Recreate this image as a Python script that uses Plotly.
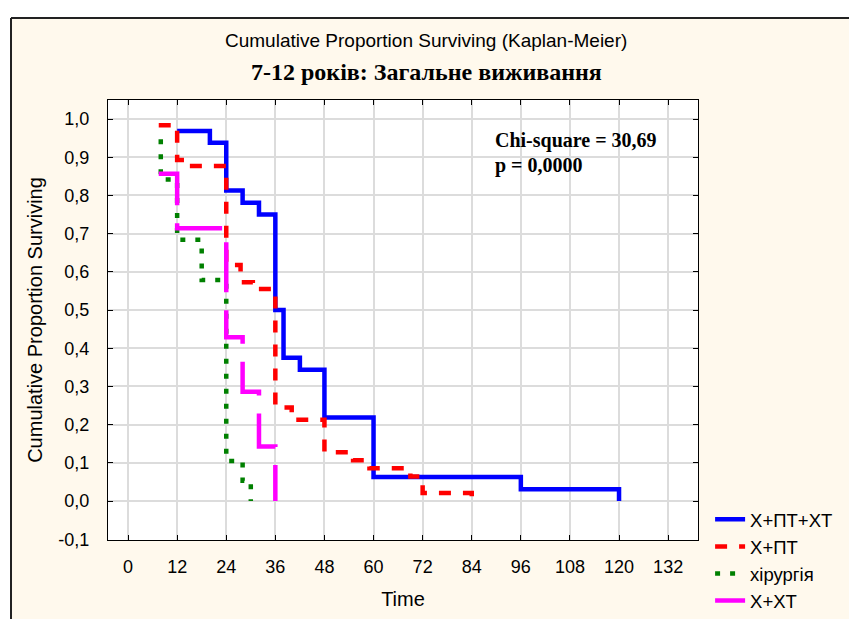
import plotly.graph_objects as go

# ---- data ----
series_names = ["Х+ПТ+ХТ", "Х+ПТ", "хірургія", "Х+ХТ"]

blue_time = [12, 20, 24, 28, 32, 36, 38, 42, 48, 60, 96, 120]
blue_surv = [0.969, 0.938, 0.813, 0.781, 0.750, 0.500, 0.375, 0.344, 0.219, 0.063, 0.031, 0.0]

red_time = [7.5, 12, 14, 24, 27.5, 30.5, 36, 40, 48, 55, 59, 69, 72, 84]
red_surv = [0.984, 0.893, 0.877, 0.618, 0.573, 0.555, 0.245, 0.213, 0.128, 0.107, 0.086, 0.064, 0.021, 0.0]

green_time = [8, 8, 12, 18, 24, 28, 30]
green_surv = [0.947, 0.842, 0.684, 0.579, 0.105, 0.053, 0.0]

magenta_time = [7.5, 12, 24, 28, 32, 36]
magenta_surv = [0.857, 0.714, 0.429, 0.286, 0.143, 0.0]

x_ticks = [0, 12, 24, 36, 48, 60, 72, 84, 96, 108, 120, 132]
y_ticks = [-0.1, 0.0, 0.1, 0.2, 0.3, 0.4, 0.5, 0.6, 0.7, 0.8, 0.9, 1.0]
y_tick_text = ["-0,1", "0,0", "0,1", "0,2", "0,3", "0,4", "0,5", "0,6", "0,7", "0,8", "0,9", "1,0"]

chi_text = "Chi-square = 30,69"
p_text = "p = 0,0000"
title_text = "Cumulative Proportion Surviving (Kaplan-Meier)"
subtitle_text = "7-12 років: Загальне виживання"

# ---- styles ----
CREAM = "#fff9ed"
SANS = "Liberation Sans, Arial, sans-serif"
SERIF = "Liberation Serif, Times New Roman, serif"

fig = go.Figure()
styles = [
    ("#0000ff", "solid"),
    ("#ff0000", "12px,12px"),
    ("#008000", "5px,10px"),
    ("#ff00ff", "50px,18px"),
]
datasets = [(blue_time, blue_surv), (red_time, red_surv),
            (green_time, green_surv), (magenta_time, magenta_surv)]
for name, (t, s), (col, dash) in zip(series_names, datasets, styles):
    fig.add_trace(go.Scatter(
        x=t, y=s, name=name, mode="lines",
        line=dict(color=col, width=4.5, dash=dash, shape="hv"),
    ))

axis_common = dict(
    showline=True, linecolor="black", linewidth=1, mirror="ticks",
    ticks="inside", ticklen=5, tickcolor="black",
    showgrid=True, gridcolor="#dcdcdc", gridwidth=1.5, zeroline=False,
    tickfont=dict(family=SANS, size=18, color="black"),
    automargin=False,
)

fig.update_layout(
    width=849, height=619, autosize=False,
    paper_bgcolor=CREAM, plot_bgcolor="white",
    margin=dict(l=108, r=151, t=100, b=79, autoexpand=False),
    showlegend=True,
    legend=dict(
        x=1.0205, y=0.089, xanchor="left", yanchor="top",
        font=dict(family=SANS, size=18.5, color="black"),
        bgcolor="rgba(0,0,0,0)", tracegroupgap=0,
    ),
    xaxis=dict(
        range=[-4.9, 139.3], tickvals=x_ticks, ticklabelstandoff=10,
        title=dict(text="Time", font=dict(family=SANS, size=20, color="black"), standoff=16),
        **axis_common,
    ),
    yaxis=dict(
        range=[-0.102, 1.05], tickvals=y_ticks, ticktext=y_tick_text,
        ticklabelstandoff=14,
        title=dict(text="Cumulative Proportion Surviving",
                   font=dict(family=SANS, size=20, color="black"), standoff=10),
        **axis_common,
    ),
)

fig.add_annotation(text=title_text, xref="paper", yref="paper",
                   x=0.539, y=1.136, xanchor="center", yanchor="middle",
                   showarrow=False, font=dict(family=SANS, size=19, color="black"))
fig.add_annotation(text="<b>" + subtitle_text + "</b>", xref="paper", yref="paper",
                   x=0.539, y=1.0636, xanchor="center", yanchor="middle",
                   showarrow=False, font=dict(family=SERIF, size=24, color="black"))
fig.add_annotation(text="<b>" + chi_text + "</b>", xref="x", yref="y",
                   x=89.2, y=0.945, xanchor="left", yanchor="middle",
                   showarrow=False, font=dict(family=SERIF, size=20, color="black"))
fig.add_annotation(text="<b>" + p_text + "</b>", xref="x", yref="y",
                   x=89.2, y=0.878, xanchor="left", yanchor="middle",
                   showarrow=False, font=dict(family=SERIF, size=20, color="black"))

# outer frame: white strips outside the frame + dark frame lines
fig.add_shape(type="rect", xref="paper", yref="paper", x0=-0.3, x1=1.4, y0=1.1875, y1=1.3,
              fillcolor="white", line=dict(width=0), layer="below")
fig.add_shape(type="rect", xref="paper", yref="paper", x0=-0.3, x1=-0.1661, y0=-0.3, y1=1.3,
              fillcolor="white", line=dict(width=0), layer="below")
fig.add_shape(type="line", xref="paper", yref="paper", x0=-0.1644, x1=1.4, y0=1.1864, y1=1.1864,
              line=dict(color="#222222", width=2))
fig.add_shape(type="line", xref="paper", yref="paper", x0=-0.1644, x1=-0.1644, y0=-0.3, y1=1.1864,
              line=dict(color="#222222", width=2))

fig.write_html("out.html")
